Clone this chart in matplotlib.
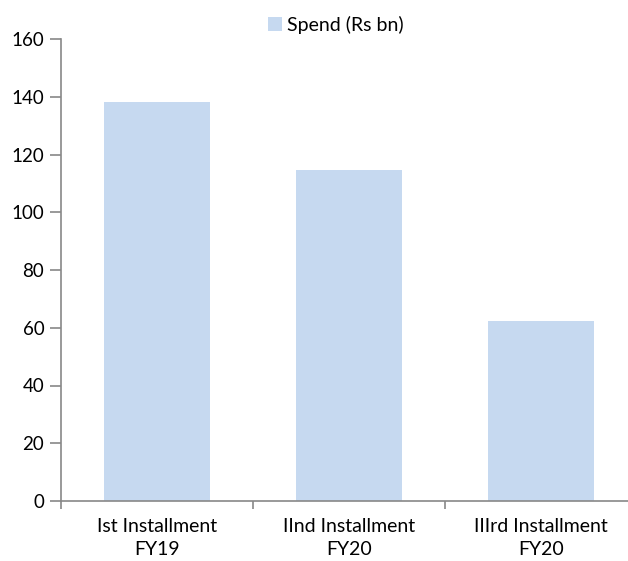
import numpy as np
import matplotlib
matplotlib.use("Agg")
import matplotlib.pyplot as plt

categories = ["Ist Installment\nFY19", "IInd Installment\nFY20", "IIIrd Installment\nFY20"]
spend = [138.2, 114.6, 62.4]
series_name = "Spend (Rs bn)"

plt.rcParams['font.family'] = ['Lato', 'DejaVu Sans']

fig = plt.figure(figsize=(6.28, 5.61), dpi=100)
# axes spans a bit past the right edge, as in the cropped original
ax = fig.add_axes([61/628, 60/561, 576/628, 462/561])

x = np.arange(len(categories))
ax.bar(x, spend, width=0.55, color="#C6D9F0", label=series_name)

ax.set_xlim(-0.5, len(categories) - 0.5)
ax.set_ylim(0, 160)
ax.set_yticks(np.arange(0, 161, 20))
ax.tick_params(axis="y", labelsize=13.5, length=8, width=1.2, color="#888888", pad=4)

ax.set_xticks(np.arange(-0.5, len(categories), 1.0))
ax.set_xticklabels([])
ax.set_xticks(x, minor=True)
ax.set_xticklabels(categories, minor=True, fontsize=14, linespacing=1.45)
ax.tick_params(axis="x", which="major", length=6, width=1.2, color="#888888")
ax.tick_params(axis="x", which="minor", length=0, pad=12)

for side in ["top", "right"]:
    ax.spines[side].set_visible(False)
for side in ["left", "bottom"]:
    ax.spines[side].set_color("#888888")
    ax.spines[side].set_linewidth(1.2)

fig.legend(loc="center", bbox_to_anchor=(336/628, 1 - 25/561), frameon=False,
           fontsize=14, handlelength=0.7, handleheight=0.7, handletextpad=0.3)

fig.savefig("out.png", dpi=100)
